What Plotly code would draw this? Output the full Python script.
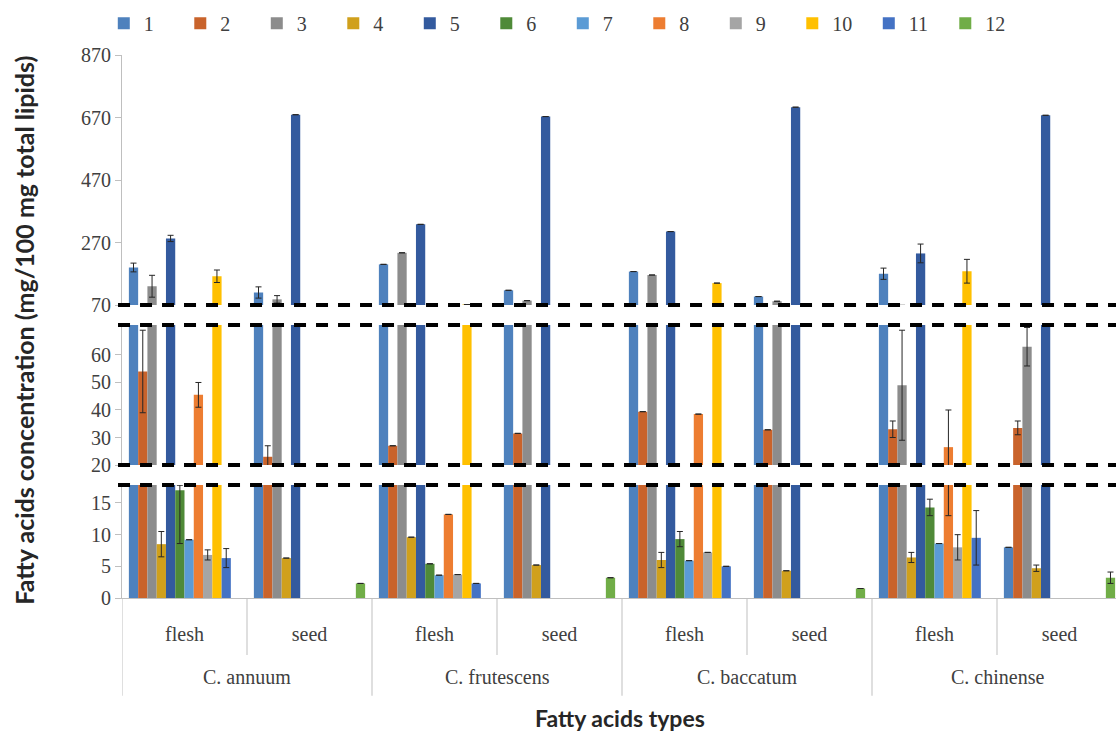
import plotly.graph_objects as go

# Category structure: species x tissue
species = ["C. annuum", "C. annuum", "C. frutescens", "C. frutescens",
           "C. baccatum", "C. baccatum", "C. chinense", "C. chinense"]
tissue = ["flesh", "seed", "flesh", "seed", "flesh", "seed", "flesh", "seed"]

series_names = ["1", "2", "3", "4", "5", "6", "7", "8", "9", "10", "11", "12"]
series_colors = ["#4E81BD", "#C9632B", "#8C8C8C", "#D0A01C", "#335A9E", "#4F8A38",
                 "#5B9BD5", "#ED7D31", "#A5A5A5", "#FFC000", "#4472C4", "#70AD47"]

# Fatty acid concentrations (mg/100 mg total lipids); None = not detected
fa1 = [190, 110, 200, 117, 177, 97, 170, 8.0]
fa2 = [54, 23, 27, 31.5, 39.4, 32.8, 33, 33.5]
fa3 = [130, 88, 237, 84, 166, 82, 49, 63]
fa4 = [8.5, 6.3, 9.6, 5.2, 6.0, 4.3, 6.4, 4.7]
fa5 = [283, 679, 328, 673, 305, 703, 235, 677]
fa6 = [17, None, 5.4, None, 9.3, None, 14.3, None]
fa7 = [9.2, None, 3.6, None, 5.9, None, 8.6, None]
fa8 = [45.5, None, 13.2, None, 38.5, None, 26.5, None]
fa9 = [6.8, None, 3.7, None, 7.2, None, 8.0, None]
fa10 = [162, None, 71.5, None, 140, None, 178, None]
fa11 = [6.3, None, 2.3, None, 5.0, None, 9.5, None]
fa12 = [None, 2.3, None, 3.2, None, 1.5, None, 3.2]

# Error bar extents above (sd_up) and below (sd_dn) each mean
sd1_up = [14, 18, 0, 0, 0, 0, 18, 0]
sd2_up = [15, 4, 0, 0, 0, 0, 3, 2.5]
sd3_up = [35, 12, 0, 0, 0, 0, 20, 7]
sd4_up = [2, 0, 0, 0, 1.2, 0, 0.8, 0.5]
sd5_up = [10, 0, 0, 0, 0, 0, 30, 0]
sd6_up = [0.8, 0, 0, 0, 1.2, 0, 1.3, 0]
sd7_up = [0, 0, 0, 0, 0, 0, 0, 0]
sd8_up = [4.5, 0, 0, 0, 0, 0, 13.5, 0]
sd9_up = [0.8, 0, 0, 0, 0, 0, 2, 0]
sd10_up = [20, 0, 0, 0, 0, 0, 38, 0]
sd11_up = [1.5, 0, 0, 0, 0, 0, 4.3, 0]
sd12_up = [0, 0, 0, 0, 0, 0, 0, 0.9]

sd6_dn = [8.4, 0, 0, 0, 1.2, 0, 1.3, 0]

errors_up = [sd1_up, sd2_up, sd3_up, sd4_up, sd5_up, sd6_up,
             sd7_up, sd8_up, sd9_up, sd10_up, sd11_up, sd12_up]
errors_dn = [sd1_up, sd2_up, sd3_up, sd4_up, sd5_up, sd6_dn,
             sd7_up, sd8_up, sd9_up, sd10_up, sd11_up, sd12_up]
values = [fa1, fa2, fa3, fa4, fa5, fa6, fa7, fa8, fa9, fa10, fa11, fa12]

# Broken value axis: three stacked segments sharing the category axis
y_low_ticks = [0, 5, 10, 15]
y_mid_ticks = [20, 30, 40, 50, 60]
y_high_ticks = [70, 270, 470, 670, 870]

serif = "Liberation Serif"
axis_grey = "#BFBFBF"
label_grey = "#404040"
title_color = "#262626"

cat_keys = [f"{s} / {t}" for s, t in zip(species, tissue)]

fig = go.Figure()
for k, yname in enumerate(["y", "y2", "y3"]):
    for name, color, vals, eu, ed in zip(series_names, series_colors, values,
                                         errors_up, errors_dn):
        fig.add_trace(go.Bar(
            x=cat_keys, y=vals, name=name,
            marker=dict(color=color, line=dict(width=0)),
            error_y=dict(type="data", symmetric=False, array=eu, arrayminus=ed,
                         visible=True, color=title_color, thickness=1, width=3),
            xaxis="x", yaxis=yname, legendgroup=name,
            showlegend=(k == 0),
        ))

yaxis_style = dict(
    showline=True, linecolor=axis_grey, linewidth=1,
    ticks="outside", tickcolor=axis_grey, ticklen=6,
    tickfont=dict(family=serif, size=20, color=label_grey),
    showgrid=False, zeroline=False, anchor="x", fixedrange=True,
)

fig.update_layout(
    width=1116, height=733,
    margin=dict(l=122, r=0, t=55, b=135),
    paper_bgcolor="white", plot_bgcolor="white",
    barmode="group", bargap=0.11, bargroupgap=0,
    font=dict(family=serif, size=20, color=label_grey),
    xaxis=dict(
        type="category", range=[-0.5, 7.452],
        tickvals=cat_keys, ticktext=tissue,
        showline=True, linecolor=axis_grey, linewidth=1,
        ticks="outside", ticklen=18, tickcolor="rgba(0,0,0,0)",
        tickfont=dict(family=serif, size=20, color=label_grey),
        showgrid=False, zeroline=False, anchor="y",
    ),
    yaxis=dict(domain=[0, 0.2081], range=[0, 17.84], tickvals=y_low_ticks, **yaxis_style),
    yaxis2=dict(domain=[0.2449, 0.5028], range=[20, 70.9], tickvals=y_mid_ticks, **yaxis_style),
    yaxis3=dict(domain=[0.5396, 1], range=[70, 870], tickvals=y_high_ticks, **yaxis_style),
    legend=dict(
        orientation="h", xref="container", yref="container",
        x=0.093, y=0.995, xanchor="left", yanchor="top",
        font=dict(family=serif, size=20, color=label_grey),
        entrywidth=31.5, itemwidth=30, bgcolor="rgba(0,0,0,0)",
    ),
)

# Dashed break markers at the edges of each axis segment
breaks = [("y3 domain", 0), ("y2 domain", 1), ("y2 domain", 0), ("y domain", 1)]
for yref, yv in breaks:
    fig.add_shape(type="line", xref="paper", yref=yref,
                  x0=-0.004, x1=1, y0=yv, y1=yv,
                  line=dict(color="black", width=4, dash="12px,10px"), layer="above")

# Category dividers: short ones between tissues, long ones between species
n_cat = len(cat_keys)
for i in range(n_cat + 1):
    pos = i - 0.5
    between_species = (i % 2 == 0)
    fig.add_shape(type="line", xref="x", yref="paper",
                  x0=pos, x1=pos, y0=0, y1=(-0.18 if between_species else -0.105),
                  line=dict(color=axis_grey, width=1))

# Species labels centred under their two tissue columns
for j in range(0, n_cat, 2):
    fig.add_annotation(
        text=species[j], xref="x", yref="paper", x=j + 0.5, y=-0.1455,
        showarrow=False, xanchor="center", yanchor="middle",
        font=dict(family=serif, size=20, color=label_grey),
    )

fig.add_annotation(
    text="Fatty acids concentration (mg/100 mg total lipids)",
    xref="paper", yref="paper", x=-0.0986, y=0.494, textangle=-90,
    showarrow=False, xanchor="center", yanchor="middle",
    font=dict(family="Lato", size=25, color=title_color, weight="bold"),
)
fig.add_annotation(
    text="Fatty acids types",
    xref="paper", yref="paper", x=0.501, y=-0.221,
    showarrow=False, xanchor="center", yanchor="middle",
    font=dict(family="Lato", size=23, color=title_color, weight="bold"),
)

fig.write_html("out.html")
